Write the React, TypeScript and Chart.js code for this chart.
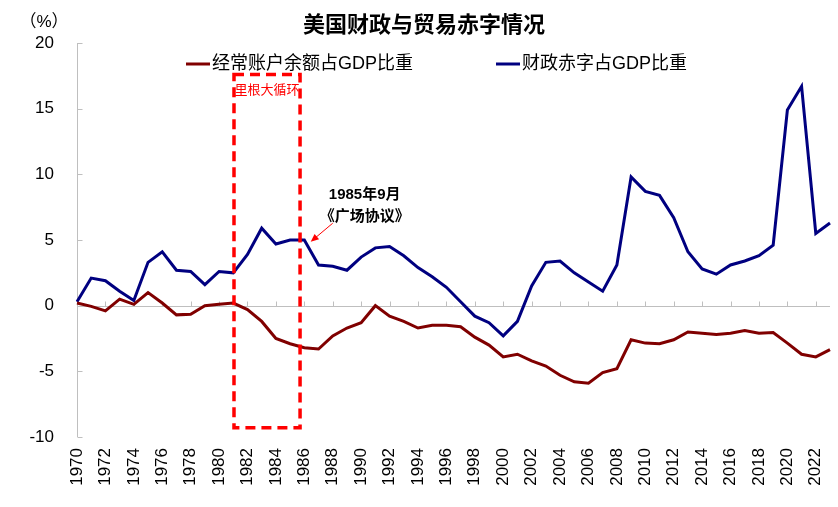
import React, { useEffect, useRef } from 'react';
import { Chart, registerables } from 'chart.js';

Chart.register(...registerables);

const years = [
  '1970', '1971', '1972', '1973', '1974', '1975', '1976', '1977', '1978', '1979',
  '1980', '1981', '1982', '1983', '1984', '1985', '1986', '1987', '1988', '1989',
  '1990', '1991', '1992', '1993', '1994', '1995', '1996', '1997', '1998', '1999',
  '2000', '2001', '2002', '2003', '2004', '2005', '2006', '2007', '2008', '2009',
  '2010', '2011', '2012', '2013', '2014', '2015', '2016', '2017', '2018', '2019',
  '2020', '2021', '2022', '2023',
];

// 经常账户余额占GDP比重 (%)
const currentAccount = [
  0.2, -0.05, -0.4, 0.5, 0.1, 1.0, 0.2, -0.7, -0.65, 0.0,
  0.1, 0.2, -0.3, -1.2, -2.5, -2.9, -3.2, -3.3, -2.3, -1.7,
  -1.3, 0.0, -0.8, -1.2, -1.7, -1.5, -1.5, -1.6, -2.4, -3.0,
  -3.9, -3.7, -4.2, -4.6, -5.3, -5.8, -5.9, -5.1, -4.8, -2.6,
  -2.85, -2.9, -2.6, -2.0, -2.1, -2.2, -2.1, -1.9, -2.1, -2.05,
  -2.85, -3.7, -3.9, -3.35,
];

// 财政赤字占GDP比重 (%)
const fiscalDeficit = [
  0.3, 2.1, 1.9, 1.1, 0.4, 3.3, 4.1, 2.7, 2.6, 1.6,
  2.6, 2.5, 3.9, 5.9, 4.7, 5.0, 5.0, 3.1, 3.0, 2.7,
  3.7, 4.4, 4.5, 3.8, 2.9, 2.2, 1.4, 0.3, -0.8, -1.3,
  -2.3, -1.2, 1.5, 3.3, 3.4, 2.5, 1.8, 1.1, 3.1, 9.8,
  8.7, 8.4, 6.7, 4.1, 2.8, 2.4, 3.1, 3.4, 3.8, 4.6,
  14.9, 16.7, 5.5, 6.3,
];

const xTickLabels = [
  '1970', '1972', '1974', '1976', '1978', '1980', '1982', '1984', '1986', '1988',
  '1990', '1992', '1994', '1996', '1998', '2000', '2002', '2004', '2006', '2008',
  '2010', '2012', '2014', '2016', '2018', '2020', '2022',
];
const yTickValues = [-10, -5, 0, 5, 10, 15, 20];

const seriesNames = ['经常账户余额占GDP比重', '财政赤字占GDP比重'];
const seriesColors = ['#800000', '#000080'];
const titleText = '美国财政与贸易赤字情况';
const unitText = '（%）';
const boxLabel = '里根大循环';
const plazaLines = ['1985年9月', '《广场协议》'];

// Reagan-cycle box (year index fractional, value)
const boxStart = 11.05;
const boxEnd = 15.7;
const boxTop = 17.6;
const boxBottom = -9.3;
// Plaza accord annotation anchors (index, value)
const arrowTail = [18.0, 6.28];
const arrowHead = [16.45, 4.87];
const plazaTextPos = [20.25, 8.44, 6.76];

const FONT = "'Liberation Sans', Arial, 'Noto Sans CJK SC', sans-serif";

const decorPlugin = {
  id: 'decor',
  beforeDatasetsDraw(chart: any) {
    const { ctx, chartArea: a, scales } = chart;
    const x = scales.x;
    const y = scales.y;
    ctx.save();
    ctx.strokeStyle = '#BFBFBF';
    ctx.lineWidth = 1;
    const lx = Math.round(a.left) + 0.5;
    ctx.beginPath();
    ctx.moveTo(lx, a.top);
    ctx.lineTo(lx, a.bottom);
    for (const v of yTickValues) {
      const py = Math.round(y.getPixelForValue(v)) + 0.5;
      ctx.moveTo(lx, py);
      ctx.lineTo(lx + 5, py);
    }
    const zy = Math.round(y.getPixelForValue(0)) + 0.5;
    ctx.moveTo(a.left, zy);
    ctx.lineTo(a.right, zy);
    years.forEach((yr, i) => {
      if (i > 0 && xTickLabels.includes(yr)) {
        const px = Math.round(x.getPixelForValue(i)) + 0.5;
        ctx.moveTo(px, zy);
        ctx.lineTo(px, zy - 5);
      }
    });
    ctx.stroke();
    ctx.restore();
  },
  afterDatasetsDraw(chart: any) {
    const { ctx, scales } = chart;
    const x = scales.x;
    const y = scales.y;
    ctx.save();
    // dashed box
    const bx0 = x.getPixelForValue(boxStart);
    const bx1 = x.getPixelForValue(boxEnd);
    const by0 = y.getPixelForValue(boxTop);
    const by1 = y.getPixelForValue(boxBottom);
    ctx.strokeStyle = '#FF0000';
    ctx.lineWidth = 3.5;
    ctx.setLineDash([10, 6]);
    ctx.strokeRect(bx0, by0, bx1 - bx0, by1 - by0);
    ctx.setLineDash([]);
    ctx.fillStyle = '#FF0000';
    ctx.font = `13px ${FONT}`;
    ctx.textAlign = 'center';
    ctx.textBaseline = 'middle';
    ctx.fillText(boxLabel, (bx0 + bx1) / 2, by0 + 16);

    // arrow
    const tx = x.getPixelForValue(arrowTail[0]);
    const ty = y.getPixelForValue(arrowTail[1]);
    const hx = x.getPixelForValue(arrowHead[0]);
    const hy = y.getPixelForValue(arrowHead[1]);
    const ang = Math.atan2(hy - ty, hx - tx);
    ctx.strokeStyle = '#FF0000';
    ctx.lineWidth = 1;
    ctx.beginPath();
    ctx.moveTo(tx, ty);
    ctx.lineTo(hx - 6 * Math.cos(ang), hy - 6 * Math.sin(ang));
    ctx.stroke();
    ctx.beginPath();
    ctx.moveTo(hx, hy);
    ctx.lineTo(hx - 8 * Math.cos(ang) + 3.5 * Math.sin(ang), hy - 8 * Math.sin(ang) - 3.5 * Math.cos(ang));
    ctx.lineTo(hx - 8 * Math.cos(ang) - 3.5 * Math.sin(ang), hy - 8 * Math.sin(ang) + 3.5 * Math.cos(ang));
    ctx.closePath();
    ctx.fill();

    // plaza text
    ctx.fillStyle = '#000000';
    ctx.font = `bold 15px ${FONT}`;
    const cx = x.getPixelForValue(plazaTextPos[0]);
    ctx.fillText(plazaLines[0], cx, y.getPixelForValue(plazaTextPos[1]));
    ctx.fillText(plazaLines[1], cx, y.getPixelForValue(plazaTextPos[2]));
    ctx.restore();
  },
  afterDraw(chart: any) {
    const { ctx } = chart;
    ctx.save();
    ctx.textBaseline = 'middle';
    // title
    ctx.fillStyle = '#000000';
    ctx.font = `bold 22px ${FONT}`;
    ctx.textAlign = 'center';
    ctx.fillText(titleText, 424, 26);
    // unit
    ctx.font = `17px ${FONT}`;
    ctx.fillText(unitText, 44, 22);
    // legend
    const legendX = [186, 496];
    ctx.textAlign = 'left';
    ctx.font = `18px ${FONT}`;
    seriesNames.forEach((name, i) => {
      ctx.strokeStyle = seriesColors[i];
      ctx.lineWidth = 3;
      ctx.beginPath();
      ctx.moveTo(legendX[i], 64);
      ctx.lineTo(legendX[i] + 24, 64);
      ctx.stroke();
      ctx.fillStyle = '#000000';
      ctx.fillText(name, legendX[i] + 26, 64);
    });
    ctx.restore();
  },
};

export default function App() {
  const canvasRef = useRef<HTMLCanvasElement | null>(null);

  useEffect(() => {
    if (!canvasRef.current) return;
    const chart = new Chart(canvasRef.current, {
      type: 'line',
      data: {
        labels: years,
        datasets: [
          {
            label: seriesNames[0],
            data: currentAccount,
            borderColor: seriesColors[0],
            backgroundColor: seriesColors[0],
            borderWidth: 3,
            pointRadius: 0,
            tension: 0,
          },
          {
            label: seriesNames[1],
            data: fiscalDeficit,
            borderColor: seriesColors[1],
            backgroundColor: seriesColors[1],
            borderWidth: 3,
            pointRadius: 0,
            tension: 0,
          },
        ],
      },
      options: {
        responsive: false,
        animation: false,
        layout: { padding: { top: 43, right: 8, left: 0, bottom: 0 } },
        plugins: {
          legend: { display: false },
          title: { display: false },
          tooltip: { enabled: false },
        },
        scales: {
          x: {
            type: 'category',
            offset: false,
            grid: { display: false, drawTicks: false },
            border: { display: false },
            ticks: {
              autoSkip: false,
              maxRotation: 90,
              minRotation: 90,
              padding: 11,
              color: '#000000',
              font: { family: FONT, size: 17 },
              callback: (_v: any, i: number) => (xTickLabels.includes(years[i]) ? years[i] : ''),
            },
            afterFit: (s: any) => {
              s.height = 70;
              s.paddingLeft = 0;
              s.paddingRight = 0;
            },
          },
          y: {
            min: -10,
            max: 20,
            grid: { display: false, drawTicks: false },
            border: { display: false },
            ticks: {
              stepSize: 5,
              padding: 23,
              color: '#000000',
              font: { family: FONT, size: 17 },
            },
            afterFit: (s: any) => {
              s.width = 77;
              s.paddingTop = 0;
              s.paddingBottom = 0;
            },
          },
        },
      },
      plugins: [decorPlugin],
    });
    return () => chart.destroy();
  }, []);

  return (
    <div style={{ position: 'absolute', left: 0, top: 0, width: 838, height: 507, background: '#ffffff' }}>
      <canvas ref={canvasRef} width={838} height={507} />
    </div>
  );
}
